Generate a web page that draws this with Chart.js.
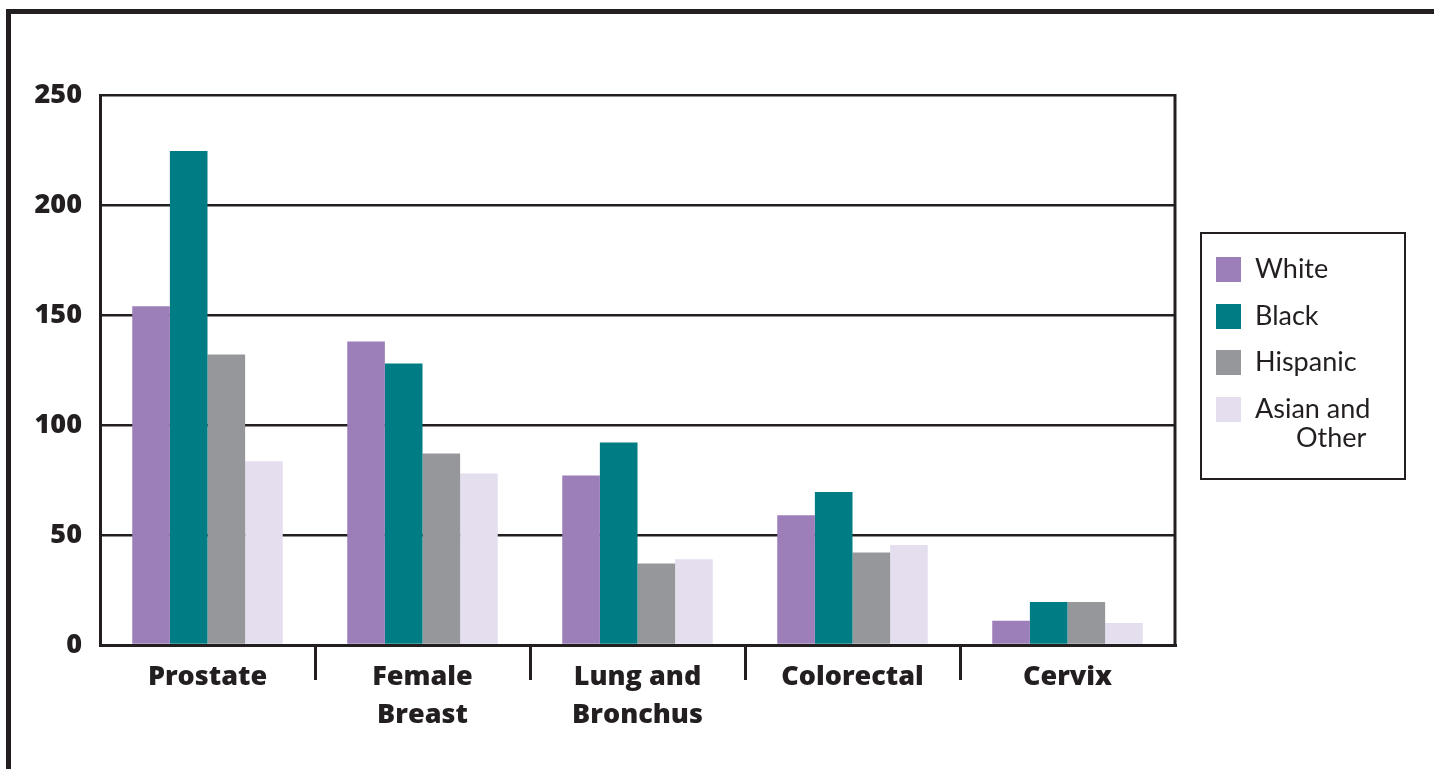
<!DOCTYPE html>
<html>
<head>
<meta charset="utf-8">
<script src="https://cdn.jsdelivr.net/npm/chart.js@4.4.1/dist/chart.umd.min.js"></script>
<style>
  html, body { margin: 0; padding: 0; background: #fff; }
  body { width: 1434px; height: 769px; position: relative; overflow: hidden; font-family: Lato, "Noto Sans", sans-serif; color: #231f20; }
  #frame { position: absolute; left: 6px; top: 9px; right: 0; bottom: 0; border-top: 5px solid #231f20; border-left: 5px solid #231f20; }
  #wrap { position: absolute; left: 0; top: 0; width: 1434px; height: 769px; }
  #legend { position: absolute; left: 1200px; top: 232px; width: 202px; height: 244px; border: 2px solid #231f20; }
  .item { position: absolute; left: 14px; display: flex; align-items: flex-start; font-size: 27px; line-height: 29px; }
  .swatch { width: 25px; height: 25px; margin-right: 14px; flex: none; }
  .label { margin-top: -4px; }
  .label span { display: block; }
  .label span + span { padding-left: 41px; }
</style>
</head>
<body>
<div id="frame"></div>
<div id="wrap"><canvas id="chart"></canvas></div>
<div id="legend"></div>
<script>
// Kategorie i wartości
const categories = [['Prostate'], ['Female', 'Breast'], ['Lung and', 'Bronchus'], ['Colorectal'], ['Cervix']];
const seriesNames = ['White', 'Black', 'Hispanic', ['Asian and', 'Other']];
const whiteRates = [154, 138, 77, 59, 11];
const blackRates = [224.5, 128, 92, 69.5, 19.5];
const hispanicRates = [132, 87, 37, 42, 19.5];
const asianOtherRates = [83.5, 78, 39, 45.5, 10];
const yTicks = [0, 50, 100, 150, 200, 250];

const colors = ['#9c7eb9', '#007c84', '#96979a', '#e4deef'];
const ink = '#231f20';
const axisFont = '"Open Sans", Lato, sans-serif';

const seriesValues = [whiteRates, blackRates, hispanicRates, asianOtherRates];

// Prawa krawędź obszaru wykresu (lewa/dolna to osie, górna to linia 250)
const frameRight = {
    id: 'frameRight',
    afterDatasetsDraw(chart) {
        const a = chart.chartArea;
        const ctx = chart.ctx;
        ctx.save();
        ctx.strokeStyle = ink;
        ctx.lineWidth = 3;
        ctx.beginPath();
        ctx.moveTo(a.right, a.top - 1);
        ctx.lineTo(a.right, a.bottom + 1.5);
        ctx.stroke();
        ctx.restore();
    }
};

new Chart(document.getElementById('chart'), {
    type: 'bar',
    data: {
        labels: categories,
        datasets: seriesValues.map((vals, i) => ({
            label: Array.isArray(seriesNames[i]) ? seriesNames[i].join(' ') : seriesNames[i],
            data: vals,
            backgroundColor: colors[i],
            borderWidth: 0,
            categoryPercentage: 0.7,
            barPercentage: 1.0
        }))
    },
    options: {
        responsive: true,
        maintainAspectRatio: false,
        animation: false,
        layout: { padding: { left: 0, top: 95, right: 259, bottom: 0 } },
        plugins: {
            legend: { display: false },
            tooltip: { enabled: false }
        },
        scales: {
            x: {
                offset: true,
                grid: {
                    offset: true,
                    drawOnChartArea: false,
                    drawTicks: true,
                    tickLength: 35,
                    lineWidth: 3,
                    color: c => (c.index > 0 ? ink : 'rgba(0,0,0,0)')
                },
                border: { display: true, color: ink, width: 3 },
                ticks: {
                    autoSkip: false,
                    maxRotation: 0,
                    padding: -22,
                    color: ink,
                    font: { family: axisFont, size: 27, weight: 800, lineHeight: 1.42 }
                },
                afterFit: s => { s.height = 124; }
            },
            y: {
                min: 0,
                max: 250,
                afterBuildTicks: s => { s.ticks = yTicks.map(v => ({ value: v })); },
                grid: { color: ink, lineWidth: 2.5, drawTicks: false },
                border: { display: true, color: ink, width: 3 },
                ticks: {
                    padding: 18,
                    color: ink,
                    font: { family: axisFont, size: 27, weight: 800 }
                },
                afterFit: s => { s.width = 100; }
            }
        }
    },
    plugins: [frameRight]
});

// Legenda w ramce po prawej
const legend = document.getElementById('legend');
seriesNames.forEach((name, i) => {
    const item = document.createElement('div');
    item.className = 'item';
    item.style.top = (23 + i * 46.5) + 'px';
    const sw = document.createElement('div');
    sw.className = 'swatch';
    sw.style.background = colors[i];
    const lab = document.createElement('div');
    lab.className = 'label';
    (Array.isArray(name) ? name : [name]).forEach(t => {
        const s = document.createElement('span');
        s.textContent = t;
        lab.appendChild(s);
    });
    item.appendChild(sw);
    item.appendChild(lab);
    legend.appendChild(item);
});
</script>
</body>
</html>
